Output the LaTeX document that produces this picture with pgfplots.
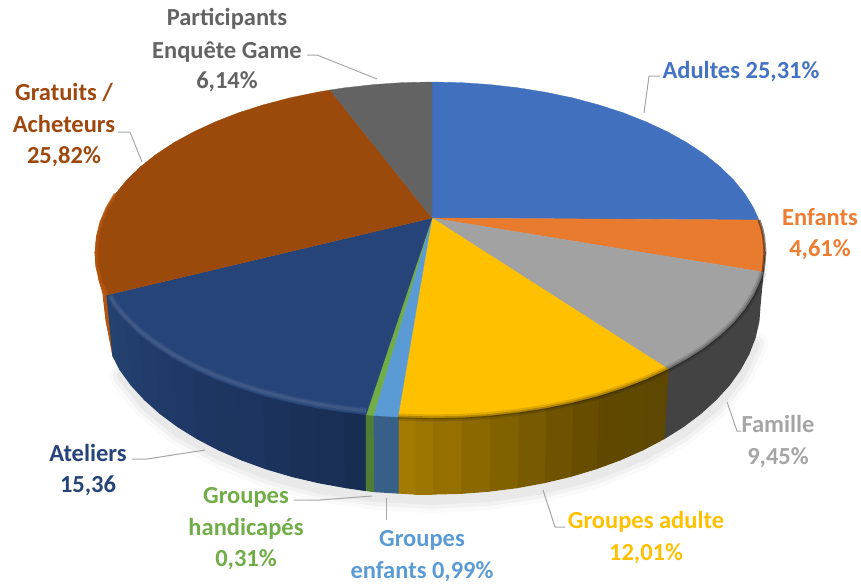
\documentclass[border=0pt]{standalone}
\usepackage{pgfplots}
\usepackage{pgfplotstable}
\pgfplotsset{compat=1.18}
\usepackage{fontspec}
\setmainfont{Carlito}
\definecolor{tBlue}{HTML}{4170BF}
\definecolor{tOrange}{HTML}{E97B2F}
\definecolor{tGray}{HTML}{A2A2A2}
\definecolor{tYellow}{HTML}{FFC000}
\definecolor{tLight}{HTML}{5B9BD5}
\definecolor{tGreen}{HTML}{70AD47}
\definecolor{tNavy}{HTML}{264478}
\definecolor{tBrown}{HTML}{9C4A0C}
\definecolor{tDark}{HTML}{636363}
\definecolor{lAdult}{HTML}{4472C4}
\definecolor{lOrange}{HTML}{ED7D31}
\definecolor{lGray}{HTML}{A5A5A5}
\definecolor{lBrown}{HTML}{9E480E}
\definecolor{leader}{HTML}{A6A6A6}
\definecolor{y1}{HTML}{A27A00}
\definecolor{y2}{HTML}{957000}
\definecolor{y3}{HTML}{826200}
\definecolor{y4}{HTML}{6E5300}
\definecolor{y5}{HTML}{604800}
\definecolor{y6}{HTML}{5E4700}
\definecolor{b1}{HTML}{182D52}
\definecolor{b2}{HTML}{1A3059}
\definecolor{b3}{HTML}{1C345F}
\definecolor{b4}{HTML}{1E3762}
\definecolor{b5}{HTML}{203A67}
\definecolor{b6}{HTML}{223E6D}
\definecolor{b7}{HTML}{24426F}
\definecolor{sGray}{HTML}{434343}
\definecolor{sLight}{HTML}{366087}
\definecolor{sGreen}{HTML}{4F7D33}
\definecolor{sBrown}{HTML}{B5550E}
\pgfplotstableread{
x y
755 344
740 376
716 406
683 433
643 456
596 475
544 489
489 497
432 500
375 497
320 489
268 475
221 456
179 433
146 406
122 376
}\shadowarc
\pgfplotstableread{
x y
366 410.8
344.8 408.3
316.7 404
289.6 398.4
263.5 391.8
238.7 384
215.4 375.2
193.7 365.4
173.8 354.7
155.9 343.2
140.1 331
126.6 318.2
115.3 304.8
110 296
}\navyrim
\pgfplotstableread{
x y
668 369
646 379.2
623 388
598.5 395.8
572.7 402.4
545.9 408
518.2 412.3
489.8 415.5
461 417.4
432 418
398 417
}\yellowrim
\pgfplotstableread{
x y
763 272
760 281
753.6 295
744.9 308.8
733.8 322.2
720.4 335
704.8 347.2
687 358.7
668 369
}\grayrim
\pgfplotstableread{
x y
107 295
100.5 280.8
97 266.5
96.5 252
97.5 237.2
101 222.5
107 208
115.3 193.9
}\brownrim
\pgfplotstableread{
x y
759 220
762 229
763.7 237
765 252
763.7 266.5
763 272
}\orangerim
\newcommand\sidequad[2]{\addplot[fill=#1,draw=#1,line width=1.2pt,line join=round,forget plot] coordinates {#2} --cycle;}
\newcommand\pieslice[2]{\addplot[fill=#1,draw=#1,line width=.3pt,forget plot] coordinates {#2} --cycle;}
\newcommand\lead[1]{\addplot[leader,line width=1pt,forget plot] coordinates {#1};}
\newcommand\lab[4]{\node[anchor=base,text=#3,inner sep=0pt,font=\fontsize{24.5}{28}\selectfont\bfseries] at (axis cs:#1,#2) {#4};}
\begin{document}
\begin{tikzpicture}
\begin{axis}[scale only axis,width=861pt,height=587pt,xmin=0,xmax=861,ymin=0,ymax=587,y dir=reverse,axis lines=none,clip=false]
\path[use as bounding box] (axis cs:0,0) rectangle (axis cs:861,587);
% soft shadow
\addplot[black,opacity=.02,line width=26pt,line cap=round,line join=round,forget plot] table {\shadowarc};
\addplot[black,opacity=.03,line width=18pt,line cap=round,line join=round,forget plot] table {\shadowarc};
\addplot[black,opacity=.035,line width=10pt,line cap=round,line join=round,forget plot] table {\shadowarc};
% sides
\sidequad{sBrown}{(95,252)(96.3,266.5)(100,280.8)(107,295)(113,356)(106,320)(103,293)(99,280)(96,260)}
\sidequad{sGray}{(765,252)(763,272)(760,281)(753.6,295)(744.9,308.8)(733.8,322.2)(720.4,335)(704.8,347.2)(687,358.7)(668,369)(664,438.6)(683.3,426.5)(700.7,413.4)(716,399.5)(729.3,384.9)(740.2,369.6)(748.8,353.9)(755,337.8)(758.8,321.5)(760,305)}
\sidequad{b7}{(115.3,308.8)(107,295)(113,356)(120,369.6)}
\sidequad{b6!50!b7}{(126.6,322.2)(115.3,308.8)(120,369.6)(131.1,384.9)}
\sidequad{b6}{(140.1,335)(126.6,322.2)(131.1,384.9)(144.5,399.5)}
\sidequad{b5!50!b6}{(155.9,347.2)(140.1,335)(144.5,399.5)(160,413.4)}
\sidequad{b5}{(173.8,358.7)(155.9,347.2)(160,413.4)(177.7,426.5)}
\sidequad{b4!50!b5}{(193.7,369.4)(173.8,358.7)(177.7,426.5)(197.2,438.6)}
\sidequad{b4}{(215.4,379.2)(193.7,369.4)(197.2,438.6)(218.6,449.8)}
\sidequad{b3!50!b4}{(238.7,388)(215.4,379.2)(218.6,449.8)(241.6,459.8)}
\sidequad{b3}{(263.5,395.8)(238.7,388)(241.6,459.8)(266,468.7)}
\sidequad{b2!50!b3}{(289.6,402.4)(263.5,395.8)(266,468.7)(291.7,476.3)}
\sidequad{b2}{(316.7,408)(289.6,402.4)(291.7,476.3)(318.5,482.6)}
\sidequad{b1!50!b2}{(344.8,412.3)(316.7,408)(318.5,482.6)(346,487.6)}
\sidequad{b1}{(366,414.8)(344.8,412.3)(346,487.6)(366,490.5)}
\sidequad{y6}{(668,369)(646,379.2)(642.8,449.8)(664,438.6)}
\sidequad{y6!50!y5}{(646,379.2)(623,388)(620.1,459.8)(642.8,449.8)}
\sidequad{y5}{(623,388)(598.5,395.8)(596,468.7)(620.1,459.8)}
\sidequad{y5!50!y4}{(598.5,395.8)(572.7,402.4)(570.6,476.3)(596,468.7)}
\sidequad{y4}{(572.7,402.4)(545.9,408)(544.2,482.6)(570.6,476.3)}
\sidequad{y4!50!y3}{(545.9,408)(518.2,412.3)(516.9,487.6)(544.2,482.6)}
\sidequad{y3}{(518.2,412.3)(489.8,415.5)(489,491.1)(516.9,487.6)}
\sidequad{y3!50!y2}{(489.8,415.5)(461,417.4)(460.6,493.3)(489,491.1)}
\sidequad{y2}{(461,417.4)(432,418)(432,494)(460.6,493.3)}
\sidequad{y1!50!y2}{(432,418)(415,418)(415,494)(432,494)}
\sidequad{y1}{(415,418)(398.5,417)(398.5,493)(415,494)}
\sidequad{sLight}{(398,417)(373.5,415.5)(374,491.5)(398,493)}
\sidequad{sGreen}{(373,415.5)(366.5,414.8)(366.5,490.5)(373.5,491.5)}
% top slices
\pieslice{tBlue}{(432,218)(432,82)(461,82.6)(489.8,84.6)(518.2,87.8)(545.9,92.3)(572.7,97.9)(598.5,104.8)(623,112.7)(646,121.8)(667.5,131.8)(687,142.7)(704.8,154.5)(720.4,167)(733.8,180.2)(744.9,193.9)(753.6,208)(759,220)}
\pieslice{tOrange}{(432,218)(759,220)(762,229)(763.7,237)(765,252)(763.7,266.5)(763,272)}
\pieslice{tGray}{(432,218)(763,272)(760,281)(753.6,295)(744.9,308.8)(733.8,322.2)(720.4,335)(704.8,347.2)(687,358.7)(668,369)}
\pieslice{tYellow}{(432,218)(668,369)(646,379.2)(623,388)(598.5,395.8)(572.7,402.4)(545.9,408)(518.2,412.3)(489.8,415.5)(461,417.4)(432,418)(398,417)}
\pieslice{tLight}{(432,218)(398,417)(373.5,415.5)}
\pieslice{tGreen}{(432,218)(373.5,415.5)(366,414.8)}
\pieslice{tNavy}{(432,218)(366,414.8)(344.8,412.3)(316.7,408)(289.6,402.4)(263.5,395.8)(238.7,388)(215.4,379.2)(193.7,369.4)(173.8,358.7)(155.9,347.2)(140.1,335)(126.6,322.2)(115.3,308.8)(107,295)}
\pieslice{tBrown}{(432,218)(107,295)(100,280.8)(96.3,266.5)(95,252)(96.3,237.2)(100,222.5)(106.5,208)(115.3,193.9)(126.6,180.2)(140.1,167)(155.9,154.5)(173.8,142.7)(193.7,131.8)(215.4,121.8)(238.7,112.7)(263.5,104.8)(289.6,97.9)(316.7,92.3)(330,90)}
\pieslice{tDark}{(432,218)(330,90)(344.8,87.8)(373.5,84.6)(402.6,82.6)(432,82)}
% rims
\addplot[black,opacity=.12,line width=7pt,forget plot] table {\yellowrim};
\addplot[black,opacity=.2,line width=3pt,forget plot] table {\yellowrim};
\addplot[black,opacity=.12,line width=7pt,forget plot] table {\grayrim};
\addplot[black,opacity=.2,line width=3pt,forget plot] table {\grayrim};
\addplot[white,opacity=.05,line width=6pt,forget plot] table {\navyrim};
\addplot[white,opacity=.07,line width=3pt,forget plot] table {\navyrim};
\addplot[sBrown,opacity=.8,line width=3pt,forget plot] table {\brownrim};
\addplot[black,opacity=.45,line width=3pt,forget plot] table {\orangerim};
% leaders
\lead{(307,55)(317,55)(377,79)}
\lead{(118,132)(130,132)(142,162)}
\lead{(660,76)(649,76)(644,113)}
\lead{(727,402)(737,431)(741,431)}
\lead{(543,490)(555,527)(565,527)}
\lead{(386,498)(386,520)}
\lead{(294,500)(320,500)(372,496)}
\lead{(132,459)(147,459)(205,450)}
% labels
\lab{227}{25}{tDark}{Participants}
\lab{227}{58}{tDark}{Enquête Game}
\lab{227}{88}{tDark}{6,14\%}
\lab{64}{100}{lBrown}{Gratuits /}
\lab{64}{132}{lBrown}{Acheteurs}
\lab{64}{163}{lBrown}{25,82\%}
\lab{741}{78}{lAdult}{Adultes 25,31\%}
\lab{820}{225}{lOrange}{Enfants}
\lab{820}{256}{lOrange}{4,61\%}
\lab{778}{432}{lGray}{Famille}
\lab{778}{464}{lGray}{9,45\%}
\lab{646}{528}{tYellow}{Groupes adulte}
\lab{646}{560}{tYellow}{12,01\%}
\lab{422}{546}{tLight}{Groupes}
\lab{422}{578}{tLight}{enfants 0,99\%}
\lab{246}{503}{tGreen}{Groupes}
\lab{246}{535}{tGreen}{handicapés}
\lab{246}{566}{tGreen}{0,31\%}
\lab{88}{461}{tNavy}{Ateliers}
\lab{88}{492}{tNavy}{15,36}
\end{axis}
\end{tikzpicture}
\end{document}
